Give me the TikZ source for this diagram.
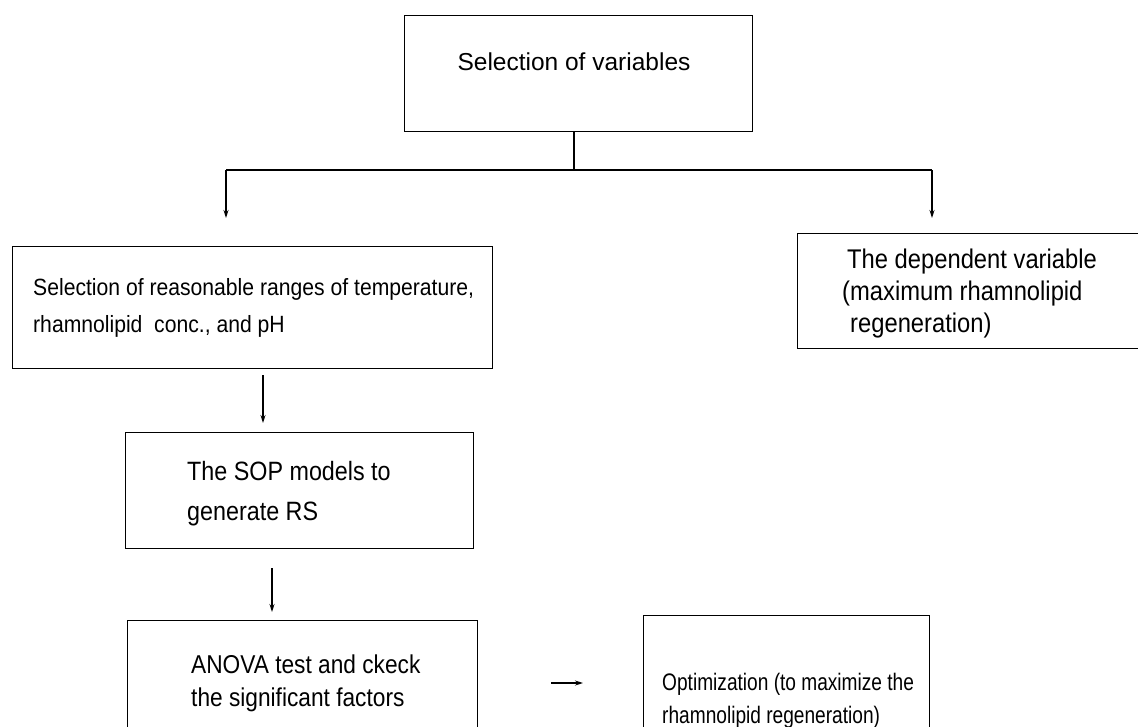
\documentclass[tikz,border=0pt]{standalone}
\usepackage{fontspec}
\setmainfont{Liberation Sans}
\newfontfamily\condA[FakeStretch=0.9]{Liberation Sans}
\newfontfamily\condB[FakeStretch=0.88]{Liberation Sans}
\newfontfamily\condC[FakeStretch=0.8]{Liberation Sans}
\usetikzlibrary{arrows.meta}

\begin{document}
\begin{tikzpicture}[x=1pt,y=-1pt,
  frame/.style={draw, line width=1.1pt, inner sep=0, anchor=north west},
  txt/.style={inner sep=0, anchor=base west, align=left},
  flow/.style={line width=1.1pt, -{Stealth[length=8pt,width=5pt]}},
  link/.style={line width=1.1pt}]
\useasboundingbox (0,0) rectangle (1138,726);
\clip (0,0) rectangle (1138,726);

% boxes
\node[frame, minimum width=348pt, minimum height=116pt] (vars)   at (404,15)  {};
\node[frame, minimum width=480pt, minimum height=122pt] (ranges) at (12,246)  {};
\node[frame, minimum width=360pt, minimum height=115pt] (dep)    at (797,233) {};
\node[frame, minimum width=348pt, minimum height=116pt] (sop)    at (125,432) {};
\node[frame, minimum width=350pt, minimum height=150pt] (anova)  at (127,620) {};
\node[frame, minimum width=286pt, minimum height=150pt] (opt)    at (643,615) {};

% box texts (anchored at the baseline of the last line)
\node[inner sep=0, anchor=base, font=\fontsize{24.5}{30}\selectfont] (varsT) at (574,70)
  {Selection of variables};
\node[txt, font=\condA\fontsize{23.5}{37}\selectfont] (rangesT) at (33,332)
  {Selection of reasonable ranges of temperature,\\
   rhamnolipid\ \ conc., and pH};
\node[txt, font=\condB\fontsize{27}{32}\selectfont] (depT) at (847,332)
  {The dependent variable\\
   \hspace*{-5pt}(maximum rhamnolipid\\
   \hspace*{3pt}regeneration)};
\node[txt, font=\condB\fontsize{26.5}{40}\selectfont] (sopT) at (187,520)
  {The SOP models to\\generate RS};
\node[txt, font=\condB\fontsize{25.8}{33}\selectfont] (anovaT) at (191,706)
  {ANOVA test and ckeck\\the significant factors};
\node[txt, font=\condC\fontsize{23.9}{33}\selectfont] (optT) at (662,723)
  {Optimization (to maximize the\\rhamnolipid regeneration)};

% connectors
\coordinate (split) at (574,170);
\coordinate (jl) at (226,170);
\coordinate (jr) at (932,170);
\coordinate (a1) at (263,0);
\coordinate (a2) at (272,0);
\coordinate (a3) at (0,683);

\draw[link] (vars.south -| split) -- (split);
\draw[link] (jl) -- (jr);
\draw[flow, shorten >=28pt] (jl) -- (jl |- ranges.north);
\draw[flow, shorten >=15pt] (jr) -- (jr |- dep.north);
\draw[flow, shorten <=6pt, shorten >=9pt] (ranges.south -| a1) -- (sop.north -| a1);
\draw[flow, shorten <=19pt, shorten >=8pt] (sop.south -| a2) -- (anova.north -| a2);
\draw[flow, shorten <=73pt, shorten >=60pt] (anova.east |- a3) -- (opt.west |- a3);
\end{tikzpicture}
\end{document}
